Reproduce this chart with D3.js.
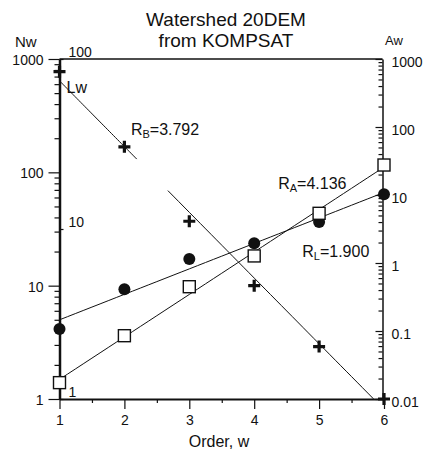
<!DOCTYPE html>
<html><head><meta charset="utf-8">
<script src="https://cdn.jsdelivr.net/npm/d3@7"></script>
<style>
body{margin:0;background:#fff}
svg{display:block}
text{font-family:"Liberation Sans",Arial,Helvetica,sans-serif;fill:#111}
</style>
</head><body>
<svg id="c" width="430" height="459"></svg>
<script>
// ---- data ----
const orders = [1, 2, 3, 4, 5, 6];
const Nw = [773, 168, 37, 10, 2.9, 1];            // stream number (crosses, left axis)
const Lw = [2.58, 4.42, 6.66, 8.24, 11.0, 16.0];  // mean length (filled circles, inner Lw axis)
const Aw = [0.0174, 0.0853, 0.448, 1.27, 5.38, 27.6]; // mean area (squares, right axis)
const xTicks = [1, 2, 3, 4, 5, 6];
const xMinor = [1.5, 2.5, 3.5, 4.5, 5.5];
const nwTicks = [1, 10, 100, 1000];
const awTicks = [0.01, 0.1, 1, 10, 100, 1000];
const lwTicks = [1, 10, 100];
const titleLines = ["Watershed 20DEM", "from KOMPSAT"];
const ratioLabels = [
  {R: "R", sub: "B", val: "=3.792", w: 2.1, series: "B"},
  {R: "R", sub: "A", val: "=4.136", w: 4.37, series: "A"},
  {R: "R", sub: "L", val: "=1.900", w: 4.74, series: "L"}
];
const nwLineGap = [2.19, 2.67]; // break in the Nw fit line (order units)

// ---- layout ----
const L = 59.5, R = 382.5, T = 59, B = 399;
const svg = d3.select("#c");
const x = d3.scaleLinear().domain([1, 6]).range([59.5, 384]);
const yN = d3.scaleLog().domain([1, 1000]).range([B, T]);
const yA = d3.scaleLog().domain([0.01, 1000]).range([B, T]);
const yL = d3.scaleLog().domain([1, 100]).range([B, T]);

function minorOf(scale, majors) {
  return scale.ticks().filter(v => !majors.some(m => Math.abs(m - v) / m < 1e-6));
}

// clip
svg.append("defs").append("clipPath").attr("id", "pc")
  .append("rect").attr("x", L).attr("y", T).attr("width", R - L).attr("height", B - T);

// ---- axes ----
const fmt = d => String(d);
// left Nw axis
svg.append("g").attr("transform", `translate(${L},0)`)
  .call(d3.axisLeft(yN).tickValues(minorOf(yN, nwTicks)).tickSize(5).tickFormat("").tickSizeOuter(0))
  .call(g => g.select(".domain").remove());
const gl = svg.append("g").attr("transform", `translate(${L},0)`)
  .call(d3.axisLeft(yN).tickValues(nwTicks).tickSize(11).tickPadding(5).tickFormat(fmt).tickSizeOuter(0));
gl.select(".domain").attr("stroke-width", 2.5).attr("stroke", "#111");
gl.selectAll("text").attr("font-size", 14).attr("dy", "0.4em");

// inner Lw axis
const gLw = svg.append("g").attr("transform", `translate(${L},0)`)
  .call(d3.axisRight(yL).tickValues(lwTicks).tickSize(4).tickPadding(5).tickFormat(fmt).tickSizeOuter(0));
gLw.select(".domain").remove();
gLw.selectAll("text").attr("font-size", 14).attr("dy", "-0.15em");

// right Aw axis
svg.append("g").attr("transform", `translate(${R},0)`)
  .call(d3.axisRight(yA).tickValues(minorOf(yA, awTicks)).tickSize(-4).tickFormat("").tickSizeOuter(0))
  .call(g => g.select(".domain").remove());
const gr = svg.append("g").attr("transform", `translate(${R},0)`)
  .call(d3.axisRight(yA).tickValues(awTicks).tickSize(-7).tickPadding(9).tickFormat(d => d >= 1 ? String(d) : d.toString()).tickSizeOuter(0));
gr.select(".domain").attr("stroke-width", 1.5).attr("stroke", "#111");
gr.selectAll("text").attr("font-size", 14).attr("dy", "0.5em");

// bottom axis
svg.append("g").attr("transform", `translate(0,${B})`)
  .call(d3.axisBottom(x).tickValues(xMinor).tickSize(4).tickFormat("").tickSizeOuter(0))
  .call(g => g.select(".domain").remove());
const gb = svg.append("g").attr("transform", `translate(0,${B})`)
  .call(d3.axisBottom(x).tickValues(xTicks).tickSize(10).tickPadding(6).tickFormat(fmt).tickSizeOuter(0));
gb.select(".domain").attr("stroke-width", 2).attr("stroke", "#111");
gb.selectAll("text").attr("font-size", 14);

// top border
svg.append("line").attr("x1", L).attr("x2", R).attr("y1", T).attr("y2", T)
  .attr("stroke", "#111").attr("stroke-width", 1.5);

svg.selectAll(".tick line").attr("stroke", "#111").attr("stroke-width", 1.2);

// ---- regression lines (least squares in log space) ----
function fit(xs, ys) {
  const ly = ys.map(Math.log10);
  const mx = d3.mean(xs), my = d3.mean(ly);
  const b = d3.sum(xs, (v, i) => (v - mx) * (ly[i] - my)) / d3.sum(xs, v => (v - mx) ** 2);
  return w => Math.pow(10, my + b * (w - mx));
}
const fN = fit(orders, Nw), fL = fit(orders, Lw), fA = fit(orders, Aw);
const lines = svg.append("g").attr("clip-path", "url(#pc)")
  .attr("fill", "none").attr("stroke", "#111").attr("stroke-width", 1);
const seg = (f, ys, w0, w1) => d3.line()(d3.range(0, 41).map(i => {
  const w = w0 + (w1 - w0) * i / 40; return [x(w), ys(f(w))];
}));
lines.append("path").attr("d", seg(fN, yN, 1, nwLineGap[0]));
lines.append("path").attr("d", seg(fN, yN, nwLineGap[1], 6));
lines.append("path").attr("d", seg(fL, yL, 1, 6));
lines.append("path").attr("d", seg(fA, yA, 1, 6));

// ---- markers ----
svg.append("g").selectAll("path").data(orders).join("path")
  .attr("transform", (d, i) => `translate(${x(d)},${yN(Nw[i])})`)
  .attr("d", "M-6,0H6M0,-6V6").attr("stroke", "#111").attr("stroke-width", 3.2);
svg.append("g").selectAll("circle").data(orders).join("circle")
  .attr("cx", d => x(d)).attr("cy", (d, i) => yL(Lw[i])).attr("r", 6).attr("fill", "#111");
svg.append("g").selectAll("rect").data(orders).join("rect")
  .attr("x", d => x(d) - 6).attr("y", (d, i) => yA(Aw[i]) - 6).attr("width", 12).attr("height", 12)
  .attr("fill", "#fff").attr("stroke", "#111").attr("stroke-width", 1.4);

// ---- texts ----
svg.append("g").selectAll("text").data(titleLines).join("text")
  .attr("x", 226).attr("y", (d, i) => 26 + i * 20.5).attr("text-anchor", "middle")
  .attr("font-size", 19).text(d => d);
svg.append("text").attr("x", 15).attr("y", 46.5).attr("font-size", 15).text("Nw");
svg.append("text").attr("x", 385).attr("y", 45).attr("font-size", 13).text("Aw");
svg.append("text").attr("x", 219).attr("y", 446.5).attr("text-anchor", "middle").attr("font-size", 16).text("Order, w");
svg.append("text").attr("x", 66.5).attr("y", 93).attr("font-size", 16).text("Lw");

const labelY = {B: 135, A: 188.5, L: 257};
const rl = svg.append("g").selectAll("text").data(ratioLabels).join("text")
  .attr("x", d => x(d.w)).attr("y", d => labelY[d.series]).attr("font-size", 16);
rl.append("tspan").text(d => d.R);
rl.append("tspan").attr("font-size", 11).attr("dy", 3).text(d => d.sub);
rl.append("tspan").attr("dy", -3).text(d => d.val);
</script>
</body></html>
